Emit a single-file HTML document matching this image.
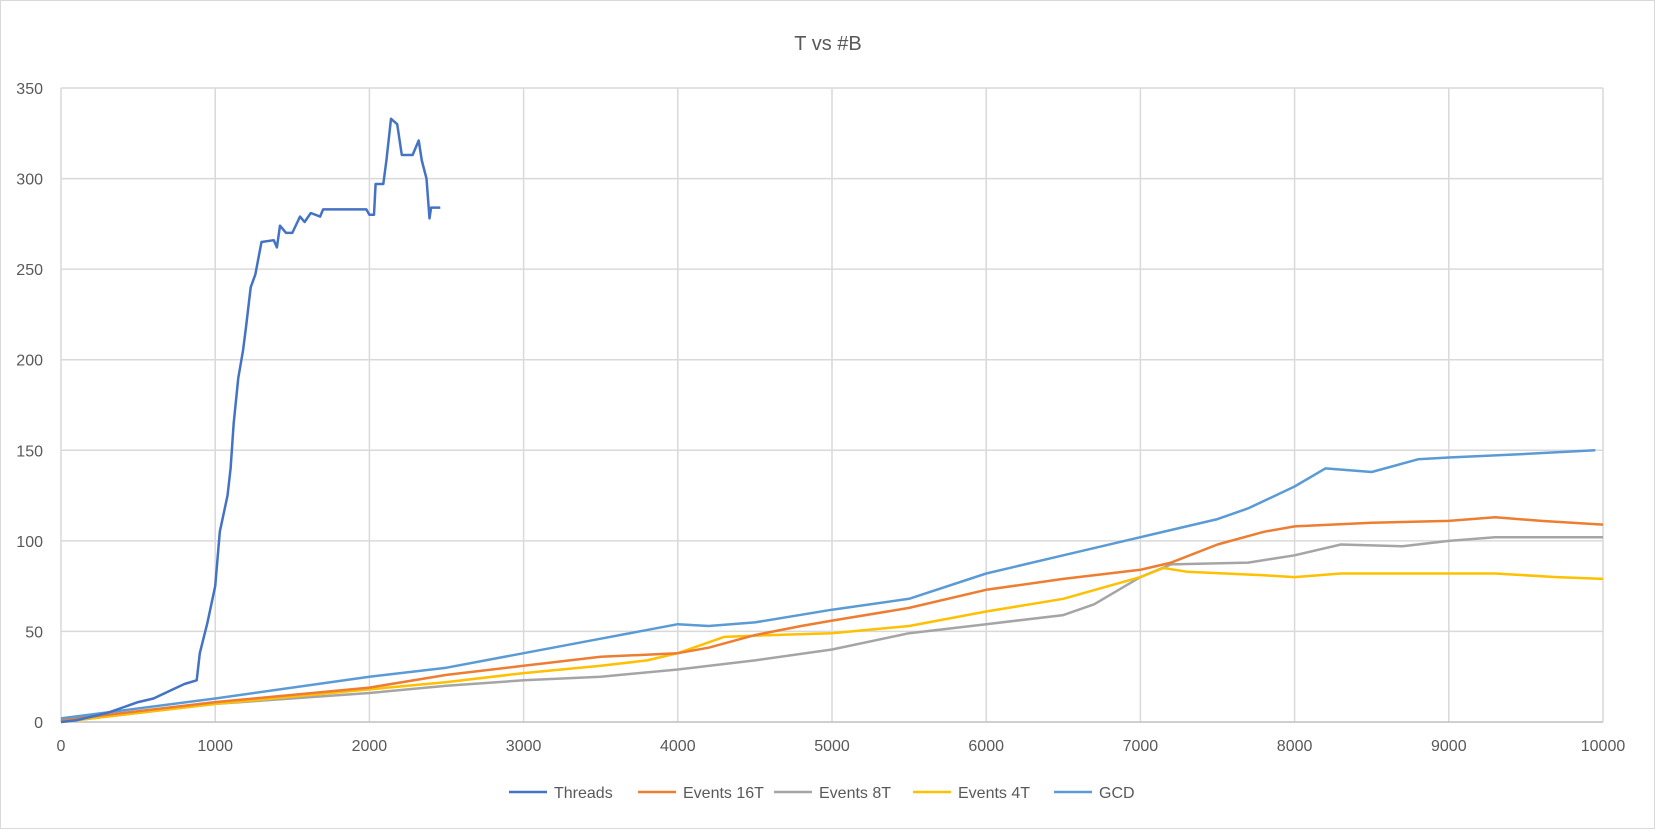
<!DOCTYPE html>
<html><head><meta charset="utf-8"><style>
body{margin:0;background:#fff;font-family:"Liberation Sans",sans-serif}
svg text{font-family:"Liberation Sans",sans-serif;fill:#595959}
</style></head><body>
<svg id="chart" width="1655" height="829">
<rect x="0.5" y="0.5" width="1654" height="828" fill="#fff" stroke="#d9d9d9"/>
<text x="828" y="50" text-anchor="middle" font-size="20">T vs #B</text>
<g id="grid"></g><g id="series"></g><g id="legend"></g>
</svg>
<script>
const xTicks=[0,1000,2000,3000,4000,5000,6000,7000,8000,9000,10000];
const yTicks=[0,50,100,150,200,250,300,350];
const seriesNames=["Threads","Events 16T","Events 8T","Events 4T","GCD"];
const seriesColors=["#4472c4","#ed7d31","#a5a5a5","#ffc000","#5b9bd5"];
const threadsX=[0,100,200,300,400,500,600,700,800,880,900,950,1000,1030,1080,1100,1120,1150,1180,1200,1230,1260,1300,1380,1400,1420,1460,1500,1550,1580,1620,1680,1700,1980,2000,2030,2040,2090,2110,2140,2180,2210,2280,2320,2340,2370,2390,2400,2460];
const threadsY=[0,1,3,5,8,11,13,17,21,23,38,55,75,105,125,140,165,190,205,218,240,247,265,266,262,274,270,270,279,276,281,279,283,283,280,280,297,297,310,333,330,313,313,321,310,300,278,284,284];
const ev16X=[0,1000,2000,2500,3000,3500,4000,4200,4500,4800,5000,5500,6000,6500,7000,7200,7500,7800,8000,8500,9000,9300,9600,10000];
const ev16Y=[1,11,19,26,31,36,38,41,48,53,56,63,73,79,84,88,98,105,108,110,111,113,111,109];
const ev8X=[0,1000,2000,2500,3000,3500,4000,4500,5000,5500,6000,6500,6700,7000,7200,7700,8000,8300,8700,9000,9300,10000];
const ev8Y=[0,10,16,20,23,25,29,34,40,49,54,59,65,80,87,88,92,98,97,100,102,102];
const ev4X=[0,1000,2000,2500,3000,3500,3800,4000,4300,4600,5000,5500,6000,6500,7000,7150,7300,7800,8000,8300,9300,9700,10000];
const ev4Y=[0,10,18,22,27,31,34,38,47,48,49,53,61,68,80,85,83,81,80,82,82,80,79];
const gcdX=[0,1000,2000,2500,3000,3500,4000,4200,4500,5000,5500,6000,6500,7000,7500,7700,8000,8200,8500,8800,9000,9500,9950];
const gcdY=[2,13,25,30,38,46,54,53,55,62,68,82,92,102,112,118,130,140,138,145,146,148,150];
const NS="http://www.w3.org/2000/svg";
const X0=61,X1=1603,Y0=722,Y1=88;
const sx=v=>X0+(v/10000)*(X1-X0);
const sy=v=>Y0-(v/350)*(Y0-Y1);
function mk(t,a,p){const e=document.createElementNS(NS,t);for(const k in a)e.setAttribute(k,a[k]);p.appendChild(e);return e;}
const grid=document.getElementById('grid');
xTicks.forEach(t=>{
  const l=mk('line',{x1:sx(t),x2:sx(t),y1:Y1,y2:Y0,stroke:'#d9d9d9','stroke-width':1.5},grid);
  
  
  const tx=mk('text',{x:sx(t),y:751,'text-anchor':'middle','font-size':16},grid);tx.textContent=t;
  
  
});
yTicks.forEach(t=>{
  const l=mk('line',{x1:X0,x2:X1,y1:sy(t),y2:sy(t),stroke:t===0?'#bfbfbf':'#d9d9d9','stroke-width':1.5},grid);
  
  
  const tx=mk('text',{x:43,y:sy(t)+6,'text-anchor':'end','font-size':16},grid);tx.textContent=t;
  
  
});
const sdata=[[threadsX,threadsY],[ev16X,ev16Y],[ev8X,ev8Y],[ev4X,ev4Y],[gcdX,gcdY]];
const sg=document.getElementById('series');
const order=[2,3,1,4,0];
order.forEach(i=>{
  const [xs,ys]=sdata[i];
  const pts=xs.map((x,j)=>sx(x).toFixed(1)+','+sy(ys[j]).toFixed(1)).join(' ');
  const p=mk('polyline',{points:pts,fill:'none',stroke:seriesColors[i],'stroke-width':2.5,'stroke-linejoin':'round'},sg);
  
  
});
const lg=document.getElementById('legend');
const lx=[509,638,774,913,1054];
seriesNames.forEach((n,i)=>{
  const g=mk('g',{},lg);
  
  
  mk('line',{x1:lx[i],x2:lx[i]+38,y1:792,y2:792,stroke:seriesColors[i],'stroke-width':2.5},g);
  const t=mk('text',{x:lx[i]+45,y:798,'font-size':16},g);t.textContent=n;
});
</script>
</body></html>
